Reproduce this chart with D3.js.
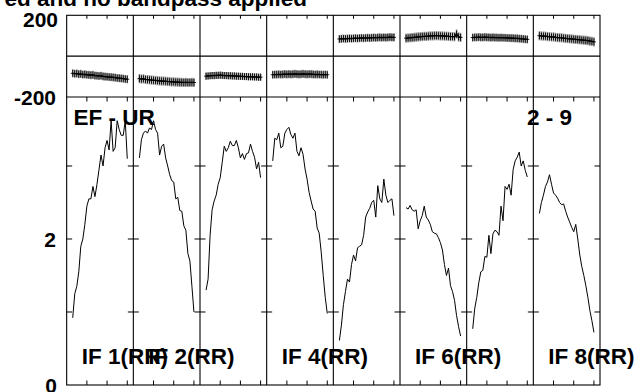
<!DOCTYPE html>
<html><head><meta charset="utf-8">
<script src="https://cdn.jsdelivr.net/npm/d3@7"></script>
<style>
html,body{margin:0;padding:0;background:#fff;}
svg{display:block;}
text{font-family:"Liberation Sans",Arial,Helvetica,sans-serif;font-weight:bold;fill:#000;}
</style></head>
<body>
<script>
// ---------- data ----------
const titleText = "ed and no bandpass applied";
const baselineLabel = "EF - UR";
const stokesLabel = "2 - 9";
const ifNames = ["IF 1(RR)", "IF 2(RR)", "", "IF 4(RR)", "", "IF 6(RR)", "", "IF 8(RR)"];
const channels = [3,4,5,6,7,8,9,10,11,12,13,14,15,16,17,18,19,20,21,22,23,24,25,26,27,28,29,30];
const channelTicks = [10, 20, 30];
const phaseTickLabels = [200, -200];
const ampTickLabels = [0, 2];
const ampTicks = [1, 2, 3];

const amp1 = [0.92,1.25,1.35,1.55,1.9,2.0,2.2,2.45,2.55,2.55,2.72,2.58,2.75,2.95,3.15,3.0,3.25,3.35,3.22,3.62,3.2,3.25,3.62,3.5,3.42,3.42,3.62,3.1];
const amp2 = [3.11,3.36,3.45,3.48,3.45,3.52,3.5,3.62,3.5,3.45,3.15,3.27,3.3,3.11,3.0,2.88,2.8,2.78,2.55,2.57,2.39,2.38,2.18,2.12,1.8,1.7,1.35,1.0];
const amp3 = [1.3,1.45,2.05,2.4,2.52,2.6,2.75,2.84,3.05,3.27,3.2,3.25,3.34,3.28,3.28,3.35,3.25,3.11,3.17,3.09,3.17,3.18,3.3,3.2,3.12,2.96,3.05,2.84];
const amp4 = [3.07,3.38,3.36,3.45,3.25,3.27,3.45,3.5,3.53,3.43,3.38,3.45,3.2,3.14,3.25,3.16,2.96,2.82,2.64,2.52,2.41,2.38,2.15,2.08,1.82,1.5,1.2,0.98];
const amp5 = [0.61,0.82,1.1,1.28,1.45,1.41,1.65,1.78,1.7,1.88,1.9,1.92,2.05,2.3,2.37,2.42,2.5,2.53,2.3,2.73,2.55,2.5,2.82,2.6,2.5,2.53,2.55,2.32];
const amp6 = [2.43,2.41,2.46,2.4,2.38,2.4,2.14,2.25,2.32,2.45,2.3,2.26,2.2,2.1,2.08,2.07,2.02,1.95,1.85,1.65,1.5,1.6,1.36,1.28,1.16,0.95,0.8,0.67];
const amp7 = [0.77,1.05,1.2,1.4,1.55,1.57,1.76,1.75,2.05,1.8,2.07,2.12,2.1,2.05,2.45,2.25,2.72,2.68,2.75,2.6,2.95,3.07,3.12,3.19,3.0,3.07,2.94,2.85];
const amp8 = [2.35,2.5,2.6,2.72,2.78,2.88,2.75,2.63,2.6,2.56,2.5,2.47,2.48,2.38,2.3,2.23,2.16,2.1,2.2,2.0,1.78,1.62,1.5,1.36,1.2,1.02,0.88,0.72];

const ph1 = [-84,-86,-85,-88,-87,-90,-89,-91,-92,-93,-92,-95,-96,-97,-96,-99,-100,-101,-102,-103,-104,-105,-107,-108,-109,-110,-112,-113];
const ph2 = [-110,-112,-111,-114,-115,-116,-117,-118,-119,-120,-121,-122,-122,-123,-124,-125,-126,-126,-127,-127,-128,-128,-129,-128,-129,-129,-128,-129];
const ph3 = [-98,-97,-96,-95,-95,-94,-94,-93,-94,-95,-95,-96,-96,-97,-97,-98,-98,-99,-99,-100,-100,-101,-101,-101,-102,-102,-103,-103];
const ph4 = [-91,-90,-90,-89,-90,-89,-88,-89,-88,-89,-88,-87,-88,-89,-88,-87,-88,-89,-88,-88,-89,-90,-89,-90,-90,-91,-90,-91];
const ph5 = [84,85,86,85,86,87,86,87,88,87,88,89,88,89,90,89,90,91,90,91,92,91,92,91,92,93,92,92];
const ph6 = [88,89,90,91,92,93,94,95,96,97,97,98,99,99,100,100,100,99,99,98,98,97,96,96,95,108,94,92];
const ph7 = [91,92,92,93,92,92,93,92,92,91,92,91,91,90,91,90,90,89,89,88,88,87,87,86,85,84,83,82];
const ph8 = [100,99,98,98,96,95,94,94,92,91,90,90,88,87,86,85,84,83,82,81,80,79,78,77,76,74,72,70];

const phaseErr = [8, 9, 7, 8, 8, 9, 8, 9];

const ampSeries = [amp1, amp2, amp3, amp4, amp5, amp6, amp7, amp8];
const phaseSeries = [ph1, ph2, ph3, ph4, ph5, ph6, ph7, ph8];

// ---------- layout ----------
const W = 640, H = 392;
const left = 66.67, right = 600;
const phTop = 15.3, phBot = 97, ampBot = 385;
const nIF = ampSeries.length;

const svg = d3.select("body").append("svg").attr("width", W).attr("height", H);

const panel = d3.scaleBand().domain(d3.range(nIF)).range([left, right]).paddingInner(0).paddingOuter(0);
const xs = d3.range(nIF).map(i => d3.scaleLinear().domain([0, 33]).range([panel(i), panel(i) + panel.bandwidth()]));
const yPh = d3.scaleLinear().domain([-200, 200]).range([phBot, phTop]);
const yAmp = d3.scaleLinear().domain([0, 3.945]).range([ampBot, phBot]);

// title
svg.append("text").attr("x", 307).attr("y", 6).attr("text-anchor", "end")
  .style("font-size", "22.5px").text(titleText);

// frames
const g = svg.append("g");
g.append("rect").attr("x", left).attr("y", phTop).attr("width", right - left).attr("height", ampBot - phTop)
  .attr("fill", "none").attr("stroke", "#000").attr("stroke-width", 1.1);
g.append("line").attr("x1", left).attr("x2", right).attr("y1", phBot).attr("y2", phBot).attr("stroke", "#000").attr("stroke-width", 1.1);
g.append("line").attr("x1", left).attr("x2", right).attr("y1", yPh(0)).attr("y2", yPh(0)).attr("stroke", "#000").attr("stroke-width", 1.1);
for (let i = 1; i < nIF; i++) {
  g.append("line").attr("x1", panel(i)).attr("x2", panel(i)).attr("y1", phTop).attr("y2", ampBot)
    .attr("stroke", "#000").attr("stroke-width", 1.1);
}

// ticks
for (let i = 0; i < nIF; i++) {
  channelTicks.forEach(c => {
    const x = xs[i](c);
    g.append("line").attr("x1", x).attr("x2", x).attr("y1", phTop).attr("y2", phTop + 3.5).attr("stroke", "#000");
    g.append("line").attr("x1", x).attr("x2", x).attr("y1", phBot).attr("y2", phBot + 4.5).attr("stroke", "#000");
    g.append("line").attr("x1", x).attr("x2", x).attr("y1", ampBot).attr("y2", ampBot - 4.5).attr("stroke", "#000");
  });
}
for (let i = 0; i <= nIF; i++) {
  const x = i < nIF ? panel(i) : right;
  ampTicks.forEach(v => {
    const y = yAmp(v);
    const x1 = i === 0 ? x : x - 5.5;
    const x2 = i === nIF ? x : x + 5.5;
    g.append("line").attr("x1", x1).attr("x2", x2).attr("y1", y).attr("y2", y).attr("stroke", "#000");
  });
}

// axis labels
const lab = svg.append("g").style("font-size", "21px").attr("text-anchor", "end");
lab.append("text").attr("x", 58).attr("y", 26.5).text(phaseTickLabels[0]);
lab.append("text").attr("x", 56).attr("y", 105).text(phaseTickLabels[1]);
lab.append("text").attr("x", 56).attr("y", 246.5).text(ampTickLabels[1]);
lab.append("text").attr("x", 57).attr("y", 392.5).text(ampTickLabels[0]);

// phase points
for (let i = 0; i < nIF; i++) {
  const x = xs[i];
  const pts = channels.map((c, k) => ({ c, v: phaseSeries[i][k] }));
  const pg = svg.append("g");
  pg.selectAll("line.err").data(pts).join("line")
    .attr("x1", d => x(d.c)).attr("x2", d => x(d.c))
    .attr("y1", d => yPh(d.v - phaseErr[i] * 2.5)).attr("y2", d => yPh(d.v + phaseErr[i] * 2.5))
    .attr("stroke", "#8a8a8a").attr("stroke-width", 1.6);
  pg.append("path").datum(pts)
    .attr("d", d3.line().x(d => x(d.c)).y(d => yPh(d.v)))
    .attr("fill", "none").attr("stroke", "#000").attr("stroke-width", 1.2);
  pg.selectAll("line.cv").data(pts).join("line")
    .attr("x1", d => x(d.c)).attr("x2", d => x(d.c))
    .attr("y1", d => yPh(d.v) - 3.5).attr("y2", d => yPh(d.v) + 3.5)
    .attr("stroke", "#000").attr("stroke-width", 0.9);
  pg.selectAll("line.ch").data(pts).join("line")
    .attr("x1", d => x(d.c) - 2).attr("x2", d => x(d.c) + 2)
    .attr("y1", d => yPh(d.v)).attr("y2", d => yPh(d.v))
    .attr("stroke", "#000").attr("stroke-width", 0.9);
}

// amplitude lines
for (let i = 0; i < nIF; i++) {
  const x = xs[i];
  const pts = channels.map((c, k) => ({ c, v: ampSeries[i][k] }));
  svg.append("path").datum(pts)
    .attr("d", d3.line().x(d => x(d.c)).y(d => yAmp(d.v)))
    .attr("fill", "none").attr("stroke", "#000").attr("stroke-width", 1);
}

// labels
const tl = svg.append("g").style("font-size", "22.5px");
tl.append("text").attr("x", 73.5).attr("y", 124.5).text(baselineLabel);
tl.append("text").attr("x", 572).attr("y", 124.5).attr("text-anchor", "end").text(stokesLabel);
ifNames.forEach((n, i) => {
  if (!n) return;
  tl.append("text").attr("x", panel(i) + 15).attr("y", 363.5).text(n);
});
</script>
</body></html>
